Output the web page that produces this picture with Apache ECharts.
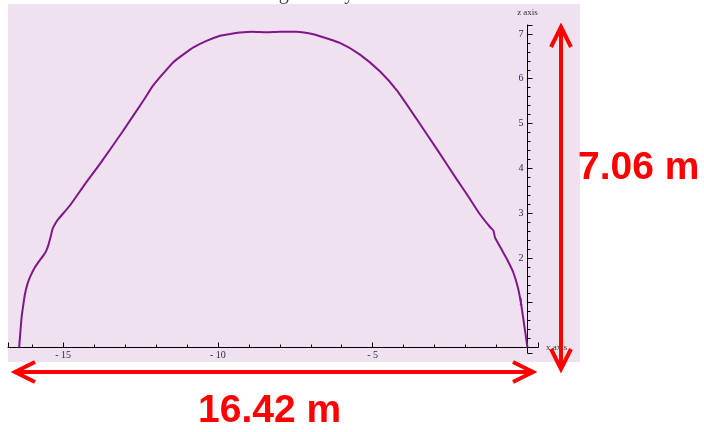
<!DOCTYPE html>
<html>
<head>
<meta charset="utf-8">
<script src="https://cdn.jsdelivr.net/npm/echarts@6/dist/echarts.min.js"></script>
<style>html,body{margin:0;padding:0;background:#fff}#c{width:704px;height:432px}</style>
</head>
<body>
<div id="c"></div>
<script>
// Profile: horizontal position (x axis, m) and height (z axis, m)
var xs = [-16.42,-16.38,-16.34,-16.28,-16.23,-16.15,-16.07,-15.91,-15.75,-15.64,-15.55,-15.48,-15.40,-15.34,-15.25,-15.15,-14.78,-14.30,-13.81,-13.10,-12.41,-12.09,-11.75,-11.44,-11.10,-10.79,-10.35,-9.93,-9.60,-9.29,-8.90,-8.42,-8.00,-7.45,-7.03,-6.70,-6.06,-5.41,-4.76,-4.22,-3.58,-2.90,-2.29,-1.90,-1.53,-1.21,-1.10,-1.05,-0.86,-0.67,-0.46,-0.30,-0.19,-0.08,0];
var zs = [0,0.35,0.68,0.98,1.20,1.42,1.57,1.79,1.95,2.05,2.15,2.28,2.48,2.65,2.77,2.87,3.17,3.64,4.10,4.80,5.51,5.85,6.13,6.37,6.55,6.70,6.85,6.96,7.00,7.03,7.05,7.04,7.05,7.05,7.01,6.95,6.80,6.54,6.16,5.74,5.10,4.40,3.76,3.36,2.97,2.69,2.61,2.46,2.22,1.98,1.68,1.31,0.90,0.38,0];
var titleText = 'Tunnel geometry';
var xName = 'x axis';
var zName = 'z axis';
var widthLabel = '16.42 m';
var heightLabel = '7.06 m';

var pts = xs.map(function(x, i){ return [x, zs[i]]; });
var labelFont = 'Liberation Serif';
var chart = echarts.init(document.getElementById('c'), null, {renderer:'canvas'});

function arrowHead(tx, ty, dx, dy) {
  var L = 20, W = 10;
  var bx = tx + dx*L, by = ty + dy*L;
  return [[bx - dy*W, by + dx*W],[tx, ty],[bx + dy*W, by - dx*W]];
}
var red = '#FF0000';
chart.setOption({
  animation: false,
  backgroundColor: '#ffffff',
  grid: {left: 8, right: 166, top: 25, bottom: 79, containLabel: false},
  xAxis: {
    type: 'value', min: -16.78, max: 0.34, splitNumber: 4,
    position: 'bottom', offset: -5.5,
    name: xName, nameLocation: 'end', nameGap: 8,
    nameTextStyle: {fontFamily: labelFont, fontSize: 9, color: '#333', verticalAlign: 'middle'},
    axisLine: {onZero: false, lineStyle: {color: '#000', width: 1}},
    axisTick: {show: true, inside: true, length: 5, lineStyle: {color: '#000'}},
    minorTick: {show: true, splitNumber: 5, length: 3, lineStyle: {color: '#000'}},
    splitLine: {show: false},
    axisLabel: {showMinLabel: false, showMaxLabel: false, margin: 3, fontFamily: labelFont, fontSize: 10, color: '#2a2a44',
      formatter: function(v){ return (v < 0 && Math.abs(v % 5) < 1e-9) ? '- ' + Math.abs(v) : ''; }}
  },
  yAxis: {
    type: 'value', min: -0.123, max: 7.20, splitNumber: 7,
    position: 'right', offset: -10.5,
    name: zName, nameLocation: 'end', nameGap: 8,
    nameTextStyle: {fontFamily: labelFont, fontSize: 9, color: '#333', align: 'center'},
    axisLine: {onZero: false, lineStyle: {color: '#000', width: 1}},
    axisTick: {show: true, inside: false, length: 5, lineStyle: {color: '#000'}},
    minorTick: {show: true, splitNumber: 5, length: 3, lineStyle: {color: '#000'}},
    splitLine: {show: false},
    axisLabel: {inside: true, showMinLabel: false, showMaxLabel: false, margin: 4, fontFamily: labelFont, fontSize: 10, color: '#2a2a44',
      formatter: function(v){ return (v > 0 && Math.abs(v - Math.round(v)) < 1e-9) ? String(v) : ''; }}
  },
  series: [{
    type: 'line', data: pts, showSymbol: false, symbol: 'none', smooth: 0.2, z: 3,
    lineStyle: {color: '#80168A', width: 2}
  }],
  graphic: [
    {type: 'rect', z: -10, silent: true, shape: {x: 8, y: 4, width: 572, height: 358}, style: {fill: '#EFE1F0'}},
    {type: 'text', z: 1, x: 286, y: -6, style: {text: titleText, font: '20px "Liberation Serif"', fill: '#444', align: 'center', verticalAlign: 'middle'}},
    {type: 'line', z: 50, shape: {x1: 17, y1: 372, x2: 531, y2: 372}, style: {stroke: red, lineWidth: 4}},
    {type: 'polyline', z: 50, shape: {points: arrowHead(15, 372, 1, 0)}, style: {stroke: red, lineWidth: 4, fill: null}},
    {type: 'polyline', z: 50, shape: {points: arrowHead(533, 372, -1, 0)}, style: {stroke: red, lineWidth: 4, fill: null}},
    {type: 'line', z: 50, shape: {x1: 561, y1: 29, x2: 561, y2: 367}, style: {stroke: red, lineWidth: 4}},
    {type: 'polyline', z: 50, shape: {points: arrowHead(561, 27, 0, 1)}, style: {stroke: red, lineWidth: 4, fill: null}},
    {type: 'polyline', z: 50, shape: {points: arrowHead(561, 369, 0, -1)}, style: {stroke: red, lineWidth: 4, fill: null}},
    {type: 'text', z: 50, x: 578, y: 168.5, style: {text: heightLabel, font: 'bold 39px "Liberation Sans"', fill: red, align: 'left', verticalAlign: 'middle'}},
    {type: 'text', z: 50, x: 198, y: 411.5, style: {text: widthLabel, font: 'bold 39px "Liberation Sans"', fill: red, align: 'left', verticalAlign: 'middle'}}
  ]
});
</script>
</body>
</html>
